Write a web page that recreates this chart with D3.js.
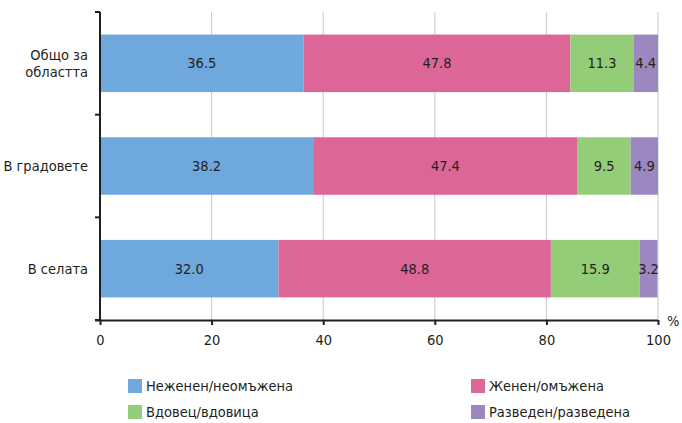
<!DOCTYPE html>
<html>
<head>
<meta charset="utf-8">
<script src="https://cdn.jsdelivr.net/npm/d3@7"></script>
<style>
  body { margin: 0; background: #fff; }
  text { font-family: "Liberation Sans Narrow", "DejaVu Sans Condensed", sans-serif; fill: #231f20; }
</style>
</head>
<body>
<svg id="chart" width="682" height="423"></svg>
<script>
const categories = ["Общо за|областта", "В градовете", "В селата"];
const series = ["Неженен/неомъжена", "Женен/омъжена", "Вдовец/вдовица", "Разведен/разведена"];
const values = [
  [36.5, 47.8, 11.3, 4.4],
  [38.2, 47.4, 9.5, 4.9],
  [32.0, 48.8, 15.9, 3.2],
];
const x_ticks = [0, 20, 40, 60, 80, 100];
const colors = ["#6fa8dc", "#dd6699", "#93cd78", "#9c87c0"];

const svg = d3.select("#chart");
const margin = { left: 100, right: 24, top: 12, bottom: 103 };
const width = 682, height = 423;
const fs = 14.5;

const x = d3.scaleLinear().domain([0, 100]).range([margin.left, width - margin.right]);
const y = d3.scaleBand().domain(categories).range([margin.top, height - margin.bottom]).paddingInner(0.44).paddingOuter(0.22);
const yb = d3.scaleBand().domain(categories).range([margin.top, height - margin.bottom]);

// grid
svg.append("g")
  .selectAll("line")
  .data(x_ticks.slice(1))
  .join("line")
  .attr("x1", (d) => x(d)).attr("x2", (d) => x(d))
  .attr("y1", margin.top).attr("y2", height - margin.bottom)
  .attr("stroke", "#c8c8c8").attr("stroke-width", 1);

// bars
const rows = svg.append("g")
  .selectAll("g")
  .data(values)
  .join("g")
  .attr("transform", (d, i) => `translate(0, ${y(categories[i])})`);

rows.each(function (row) {
  let acc = 0;
  const segs = row.map((v, j) => {
    const s = { start: acc, value: v, j: j };
    acc += v;
    return s;
  });
  const g = d3.select(this);
  g.selectAll("rect")
    .data(segs)
    .join("rect")
    .attr("x", (d) => x(d.start))
    .attr("width", (d) => x(Math.min(100, d.start + d.value)) - x(d.start))
    .attr("height", y.bandwidth())
    .attr("fill", (d) => colors[d.j]);
  g.selectAll("text")
    .data(segs)
    .join("text")
    .attr("x", (d) => (x(d.start) + x(Math.min(100, d.start + d.value))) / 2)
    .attr("y", y.bandwidth() / 2)
    .attr("dy", "0.35em")
    .attr("text-anchor", "middle")
    .attr("font-size", fs)
    .text((d) => d.value.toFixed(1));
});

// x axis
const x_axis = svg.append("g")
  .attr("transform", `translate(0, ${height - margin.bottom})`)
  .call(d3.axisBottom(x).tickValues(x_ticks).tickSize(5).tickPadding(10).tickSizeOuter(0));
x_axis.select(".domain").attr("stroke", "#231f20").attr("stroke-width", 2)
  .attr("d", `M${margin.left - 5},0.5H${x(100)}`);
x_axis.selectAll(".tick line").attr("stroke", "#231f20").attr("stroke-width", 2);
x_axis.selectAll(".tick text").attr("font-size", fs).attr("font-family", null);

svg.append("text")
  .attr("x", x(100) + 9).attr("y", height - margin.bottom + 6)
  .attr("font-size", fs).text("%");

// y axis
const y_axis = svg.append("g").attr("transform", `translate(${margin.left}, 0)`);
y_axis.append("line")
  .attr("x1", 0).attr("x2", 0)
  .attr("y1", margin.top).attr("y2", height - margin.bottom)
  .attr("stroke", "#231f20").attr("stroke-width", 2);
y_axis.selectAll(".tk")
  .data(categories.map((c) => yb(c)).concat([height - margin.bottom]))
  .join("line")
  .attr("class", "tk")
  .attr("x1", -5).attr("x2", 0)
  .attr("y1", (d) => d).attr("y2", (d) => d)
  .attr("stroke", "#231f20").attr("stroke-width", 2);
categories.forEach((c) => {
  const lines = c.split("|");
  const t = y_axis.append("text")
    .attr("x", -12)
    .attr("y", y(c) + y.bandwidth() / 2)
    .attr("text-anchor", "end")
    .attr("font-size", fs);
  lines.forEach((l, k) => {
    t.append("tspan")
      .attr("x", -12)
      .attr("dy", k === 0 ? `${0.35 - (lines.length - 1) * 0.6}em` : "1.2em")
      .text(l);
  });
});

// legend
const legend_pos = [[128, 379], [471, 379], [128, 405], [471, 405]];
const legend = svg.append("g")
  .selectAll("g")
  .data(series)
  .join("g")
  .attr("transform", (d, i) => `translate(${legend_pos[i][0]}, ${legend_pos[i][1]})`);
legend.append("rect").attr("width", 14).attr("height", 14).attr("fill", (d, i) => colors[i]);
legend.append("text").attr("x", 18).attr("y", 7).attr("dy", "0.35em").attr("font-size", fs).text((d) => d);
</script>
</body>
</html>
